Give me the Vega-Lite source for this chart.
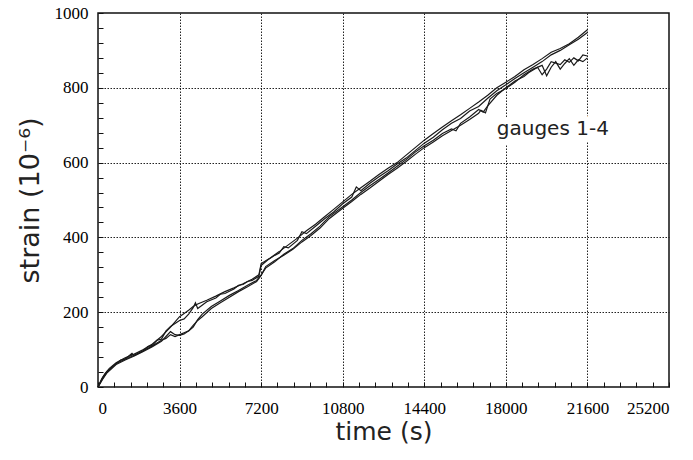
{
  "$schema": "https://vega.github.io/schema/vega-lite/v6.json",
  "width": 571,
  "height": 374,
  "autosize": {"type": "none"},
  "padding": {"left": 98, "top": 13, "right": 24, "bottom": 73},
  "background": "white",
  "config": {
    "view": {"stroke": "#111", "strokeWidth": 1.5},
    "axis": {
      "domain": false,
      "labelFont": "Liberation Serif",
      "labelFontSize": 17,
      "labelColor": "#000",
      "labelOverlap": false,
      "titleFont": "DejaVu Sans",
      "titleFontWeight": "normal",
      "titleColor": "#222",
      "tickColor": "#111",
      "tickWidth": 1,
      "gridColor": "#222",
      "gridDash": [1.5, 1.5],
      "gridWidth": 1
    }
  },
  "datasets": {
    "strain": [
      {"g":"A","t":0,"s":0},{"g":"A","t":150,"s":20},{"g":"A","t":300,"s":35},{"g":"A","t":500,"s":50},{"g":"A","t":800,"s":65},{"g":"A","t":1200,"s":78},{"g":"A","t":1600,"s":88},{"g":"A","t":2000,"s":100},{"g":"A","t":2400,"s":115},{"g":"A","t":2800,"s":135},{"g":"A","t":3200,"s":160},{"g":"A","t":3600,"s":188},{"g":"A","t":4000,"s":205},{"g":"A","t":4200,"s":215},{"g":"A","t":4400,"s":222},{"g":"A","t":4800,"s":232},{"g":"A","t":5200,"s":243},{"g":"A","t":5600,"s":255},{"g":"A","t":6000,"s":265},{"g":"A","t":6400,"s":276},{"g":"A","t":6800,"s":288},{"g":"A","t":7100,"s":300},{"g":"A","t":7200,"s":330},{"g":"A","t":7600,"s":345},{"g":"A","t":8000,"s":362},{"g":"A","t":8400,"s":380},{"g":"A","t":8800,"s":398},{"g":"A","t":9200,"s":418},{"g":"A","t":9600,"s":435},{"g":"A","t":10000,"s":455},{"g":"A","t":10400,"s":475},{"g":"A","t":10800,"s":495},{"g":"A","t":11200,"s":515},{"g":"A","t":11600,"s":533},{"g":"A","t":12000,"s":550},{"g":"A","t":12400,"s":568},{"g":"A","t":12800,"s":585},{"g":"A","t":13200,"s":600},{"g":"A","t":13600,"s":620},{"g":"A","t":14000,"s":640},{"g":"A","t":14400,"s":660},{"g":"A","t":14800,"s":678},{"g":"A","t":15200,"s":695},{"g":"A","t":15600,"s":712},{"g":"A","t":16000,"s":728},{"g":"A","t":16400,"s":745},{"g":"A","t":16800,"s":762},{"g":"A","t":17200,"s":780},{"g":"A","t":17600,"s":800},{"g":"A","t":18000,"s":815},{"g":"A","t":18400,"s":830},{"g":"A","t":18800,"s":848},{"g":"A","t":19200,"s":862},{"g":"A","t":19600,"s":878},{"g":"A","t":20000,"s":895},{"g":"A","t":20400,"s":905},{"g":"A","t":20800,"s":918},{"g":"A","t":21200,"s":935},{"g":"A","t":21600,"s":955},
      {"g":"B","t":0,"s":0},{"g":"B","t":200,"s":25},{"g":"B","t":400,"s":42},{"g":"B","t":800,"s":62},{"g":"B","t":1000,"s":72},{"g":"B","t":1200,"s":75},{"g":"B","t":1500,"s":90},{"g":"B","t":1600,"s":84},{"g":"B","t":2000,"s":96},{"g":"B","t":2200,"s":108},{"g":"B","t":2400,"s":112},{"g":"B","t":2600,"s":125},{"g":"B","t":2800,"s":128},{"g":"B","t":3000,"s":150},{"g":"B","t":3200,"s":162},{"g":"B","t":3400,"s":170},{"g":"B","t":3600,"s":178},{"g":"B","t":3800,"s":182},{"g":"B","t":4000,"s":195},{"g":"B","t":4200,"s":212},{"g":"B","t":4300,"s":225},{"g":"B","t":4400,"s":210},{"g":"B","t":4800,"s":228},{"g":"B","t":5200,"s":238},{"g":"B","t":5400,"s":248},{"g":"B","t":5600,"s":250},{"g":"B","t":6000,"s":262},{"g":"B","t":6200,"s":272},{"g":"B","t":6400,"s":274},{"g":"B","t":6600,"s":282},{"g":"B","t":6800,"s":285},{"g":"B","t":7100,"s":296},{"g":"B","t":7200,"s":325},{"g":"B","t":7500,"s":340},{"g":"B","t":7800,"s":352},{"g":"B","t":8000,"s":358},{"g":"B","t":8200,"s":375},{"g":"B","t":8400,"s":372},{"g":"B","t":8800,"s":392},{"g":"B","t":9000,"s":415},{"g":"B","t":9200,"s":410},{"g":"B","t":9600,"s":430},{"g":"B","t":10000,"s":450},{"g":"B","t":10400,"s":468},{"g":"B","t":10800,"s":490},{"g":"B","t":11200,"s":508},{"g":"B","t":11400,"s":535},{"g":"B","t":11600,"s":525},{"g":"B","t":12000,"s":545},{"g":"B","t":12400,"s":562},{"g":"B","t":12800,"s":578},{"g":"B","t":13200,"s":596},{"g":"B","t":13600,"s":612},{"g":"B","t":14000,"s":632},{"g":"B","t":14400,"s":652},{"g":"B","t":14800,"s":668},{"g":"B","t":15200,"s":688},{"g":"B","t":15600,"s":705},{"g":"B","t":16000,"s":718},{"g":"B","t":16400,"s":738},{"g":"B","t":16800,"s":750},{"g":"B","t":17200,"s":772},{"g":"B","t":17600,"s":792},{"g":"B","t":18000,"s":808},{"g":"B","t":18400,"s":825},{"g":"B","t":18800,"s":840},{"g":"B","t":19200,"s":855},{"g":"B","t":19600,"s":870},{"g":"B","t":20000,"s":888},{"g":"B","t":20400,"s":900},{"g":"B","t":20800,"s":915},{"g":"B","t":21200,"s":930},{"g":"B","t":21600,"s":948},
      {"g":"C","t":0,"s":0},{"g":"C","t":200,"s":22},{"g":"C","t":400,"s":40},{"g":"C","t":800,"s":63},{"g":"C","t":1200,"s":74},{"g":"C","t":1600,"s":85},{"g":"C","t":2000,"s":97},{"g":"C","t":2400,"s":110},{"g":"C","t":2800,"s":125},{"g":"C","t":3000,"s":130},{"g":"C","t":3200,"s":140},{"g":"C","t":3400,"s":135},{"g":"C","t":3600,"s":140},{"g":"C","t":3800,"s":145},{"g":"C","t":4000,"s":150},{"g":"C","t":4200,"s":160},{"g":"C","t":4400,"s":180},{"g":"C","t":4600,"s":195},{"g":"C","t":5000,"s":215},{"g":"C","t":5400,"s":230},{"g":"C","t":5800,"s":245},{"g":"C","t":6200,"s":258},{"g":"C","t":6600,"s":272},{"g":"C","t":7000,"s":285},{"g":"C","t":7200,"s":300},{"g":"C","t":7400,"s":318},{"g":"C","t":7800,"s":335},{"g":"C","t":8200,"s":355},{"g":"C","t":8600,"s":370},{"g":"C","t":9000,"s":392},{"g":"C","t":9400,"s":410},{"g":"C","t":9800,"s":430},{"g":"C","t":10200,"s":455},{"g":"C","t":10800,"s":482},{"g":"C","t":11200,"s":500},{"g":"C","t":11600,"s":520},{"g":"C","t":12000,"s":538},{"g":"C","t":12400,"s":555},{"g":"C","t":12800,"s":572},{"g":"C","t":13200,"s":590},{"g":"C","t":13600,"s":608},{"g":"C","t":14000,"s":628},{"g":"C","t":14400,"s":645},{"g":"C","t":14800,"s":660},{"g":"C","t":15200,"s":678},{"g":"C","t":15600,"s":690},{"g":"C","t":15800,"s":685},{"g":"C","t":16000,"s":705},{"g":"C","t":16400,"s":722},{"g":"C","t":16800,"s":742},{"g":"C","t":17000,"s":735},{"g":"C","t":17200,"s":752},{"g":"C","t":17600,"s":780},{"g":"C","t":18000,"s":800},{"g":"C","t":18400,"s":818},{"g":"C","t":18800,"s":830},{"g":"C","t":19000,"s":840},{"g":"C","t":19400,"s":855},{"g":"C","t":19600,"s":835},{"g":"C","t":19800,"s":850},{"g":"C","t":20000,"s":870},{"g":"C","t":20400,"s":862},{"g":"C","t":20600,"s":875},{"g":"C","t":20800,"s":868},{"g":"C","t":21000,"s":880},{"g":"C","t":21200,"s":872},{"g":"C","t":21400,"s":888},{"g":"C","t":21600,"s":885},
      {"g":"D","t":0,"s":0},{"g":"D","t":200,"s":20},{"g":"D","t":400,"s":38},{"g":"D","t":800,"s":60},{"g":"D","t":1200,"s":72},{"g":"D","t":1600,"s":83},{"g":"D","t":2000,"s":95},{"g":"D","t":2400,"s":108},{"g":"D","t":2800,"s":122},{"g":"D","t":3000,"s":135},{"g":"D","t":3200,"s":148},{"g":"D","t":3400,"s":140},{"g":"D","t":3600,"s":138},{"g":"D","t":3800,"s":142},{"g":"D","t":4000,"s":150},{"g":"D","t":4200,"s":165},{"g":"D","t":4400,"s":178},{"g":"D","t":4600,"s":188},{"g":"D","t":5000,"s":210},{"g":"D","t":5400,"s":225},{"g":"D","t":5800,"s":240},{"g":"D","t":6200,"s":255},{"g":"D","t":6600,"s":268},{"g":"D","t":7000,"s":282},{"g":"D","t":7200,"s":298},{"g":"D","t":7400,"s":322},{"g":"D","t":7800,"s":338},{"g":"D","t":8200,"s":352},{"g":"D","t":8600,"s":368},{"g":"D","t":9000,"s":388},{"g":"D","t":9400,"s":405},{"g":"D","t":9800,"s":425},{"g":"D","t":10200,"s":450},{"g":"D","t":10800,"s":478},{"g":"D","t":11200,"s":496},{"g":"D","t":11600,"s":515},{"g":"D","t":12000,"s":532},{"g":"D","t":12400,"s":550},{"g":"D","t":12800,"s":568},{"g":"D","t":13200,"s":585},{"g":"D","t":13600,"s":603},{"g":"D","t":14000,"s":622},{"g":"D","t":14400,"s":640},{"g":"D","t":14800,"s":655},{"g":"D","t":15200,"s":672},{"g":"D","t":15600,"s":686},{"g":"D","t":16000,"s":700},{"g":"D","t":16400,"s":715},{"g":"D","t":16800,"s":732},{"g":"D","t":16900,"s":740},{"g":"D","t":17100,"s":733},{"g":"D","t":17300,"s":770},{"g":"D","t":17600,"s":785},{"g":"D","t":18000,"s":798},{"g":"D","t":18400,"s":815},{"g":"D","t":18800,"s":835},{"g":"D","t":19200,"s":850},{"g":"D","t":19600,"s":860},{"g":"D","t":19800,"s":832},{"g":"D","t":20000,"s":855},{"g":"D","t":20200,"s":870},{"g":"D","t":20400,"s":850},{"g":"D","t":20600,"s":865},{"g":"D","t":20800,"s":878},{"g":"D","t":21000,"s":860},{"g":"D","t":21200,"s":875},{"g":"D","t":21400,"s":870},{"g":"D","t":21600,"s":880}
    ],
    "note": [{"t": 17600, "s": 690, "label": "gauges 1-4"}]
  },
  "layer": [
    {
      "data": {"name": "strain"},
      "mark": {"type": "line", "strokeWidth": 1.2, "interpolate": "linear"},
      "encoding": {
        "x": {
          "field": "t", "type": "quantitative",
          "scale": {"domain": [0, 25200], "nice": false, "zero": false},
          "axis": {
            "title": "time (s)",
            "titleFontSize": 25,
            "titlePadding": 3,
            "tickCount": 200,
            "values": [0,720,1440,2160,2880,3600,4320,5040,5760,6480,7200,7920,8640,9360,10080,10800,11520,12240,12960,13680,14400,15120,15840,16560,17280,18000,18720,19440,20160,20880,21600,22320,23040,23760,24480,25200],
            "format": "d",
            "labelExpr": "datum.value % 3600 == 0 ? datum.label : ''",
            "labelPadding": 18,
            "tickSize": -5,
            "gridOpacity": {"condition": {"test": "datum.value % 3600 == 0 && datum.value > 0 && datum.value < 25200", "value": 1}, "value": 0}
          }
        },
        "y": {
          "field": "s", "type": "quantitative",
          "scale": {"domain": [0, 1000], "nice": false},
          "axis": {
            "title": "strain (10⁻⁶)",
            "titleFontSize": 27,
            "titlePadding": 10,
            "tickCount": 200,
            "values": [0,40,80,120,160,200,240,280,320,360,400,440,480,520,560,600,640,680,720,760,800,840,880,920,960,1000],
            "format": "d",
            "labelExpr": "datum.value % 200 == 0 ? datum.label : ''",
            "labelPadding": 15,
            "tickSize": -5,
            "gridOpacity": {"condition": {"test": "datum.value % 200 == 0 && datum.value > 0 && datum.value < 1000", "value": 1}, "value": 0}
          }
        },
        "detail": {"field": "g", "type": "nominal"},
        "color": {"value": "#1a1a1a"}
      }
    },
    {
      "data": {"name": "note"},
      "mark": {"type": "text", "align": "left", "baseline": "middle", "font": "DejaVu Sans", "fontSize": 20, "stroke": "white", "strokeWidth": 12, "strokeJoin": "round", "color": "white"},
      "encoding": {
        "x": {"field": "t", "type": "quantitative"},
        "y": {"field": "s", "type": "quantitative"},
        "text": {"field": "label"}
      }
    },
    {
      "data": {"name": "note"},
      "mark": {"type": "text", "align": "left", "baseline": "middle", "font": "DejaVu Sans", "fontSize": 20, "color": "#222"},
      "encoding": {
        "x": {"field": "t", "type": "quantitative"},
        "y": {"field": "s", "type": "quantitative"},
        "text": {"field": "label"}
      }
    }
  ]
}
